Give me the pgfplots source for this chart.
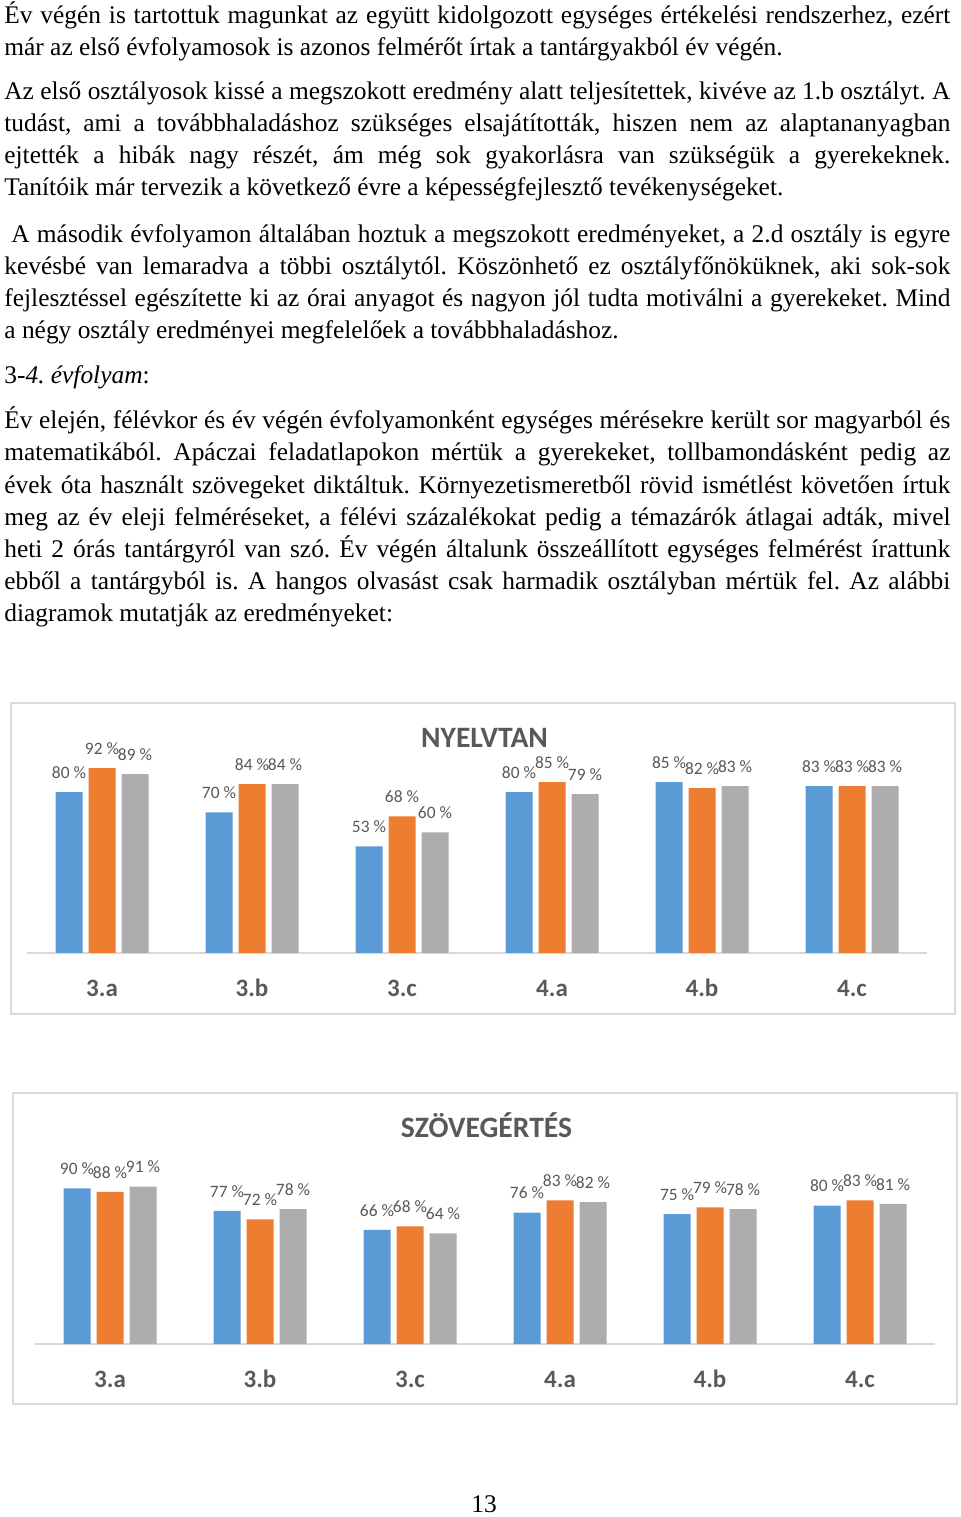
\documentclass[border=0pt]{standalone}
\usepackage{pgfplots}
\pgfplotsset{compat=1.18}
\usepackage{fontspec}
\setmainfont{Liberation Serif}
\newfontfamily\carlito{Carlito}
\definecolor{cblue}{HTML}{5B9BD5}
\definecolor{corange}{HTML}{ED7D31}
\definecolor{cgray}{HTML}{ADADAD}
\definecolor{tgray}{HTML}{595959}
\definecolor{lgray}{HTML}{D9D9D9}
\frenchspacing
\newcommand{\jl}[1]{\hbox to 473pt{#1}}
\newcommand{\bodyfont}{\fontsize{12.7}{16}\selectfont}
\pgfplotsset{
 barchart/.style={
   ybar=3pt, bar width=13.5pt, scale only axis, width=450pt, anchor=south west,
   xmin=-0.5, xmax=5.5, ymin=0, ymax=100,
   axis x line=bottom, axis y line=none,
   axis line style={lgray, line width=0.7pt, -},
   xtick={0,...,5}, xticklabels={3.a,3.b,3.c,4.a,4.b,4.c},
   major tick length=0pt, ytick=\empty,
   xticklabel style={font=\carlito\bfseries\fontsize{12.5}{14}\selectfont, text=tgray, anchor=center, yshift=-17.5pt},
   nodes near coords={\pgfmathprintnumber[assume math mode=true]{\pgfplotspointmeta}~\%},
   every node near coord/.append style={font=\carlito\fontsize{8.7}{10}\selectfont, text=tgray, anchor=base, inner sep=0pt, yshift=6.8pt},
   clip=false,
 }
}
\begin{document}
\begin{tikzpicture}
\path[use as bounding box] (0,0) rectangle (480pt,758.5pt);
\fill[white] (0,0) rectangle (480pt,758.5pt);
\bodyfont
\node[anchor=base west, inner sep=0pt] at (2pt,746.5pt) {\jl{Év végén is tartottuk magunkat az együtt kidolgozott egységes értékelési rendszerhez, ezért}};
\node[anchor=base west, inner sep=0pt] at (2pt,730.75pt) {már az első évfolyamosok is azonos felmérőt írtak a tantárgyakból év végén.};
\node[anchor=base west, inner sep=0pt] at (2pt,708.5pt) {\jl{Az első osztályosok kissé a megszokott eredmény alatt teljesítettek, kivéve az 1.b osztályt. A}};
\node[anchor=base west, inner sep=0pt] at (2pt,692.75pt) {\jl{tudást, ami a továbbhaladáshoz szükséges elsajátították, hiszen nem az alaptananyagban}};
\node[anchor=base west, inner sep=0pt] at (2pt,676.75pt) {\jl{ejtették a hibák nagy részét, ám még sok gyakorlásra van szükségük a gyerekeknek.}};
\node[anchor=base west, inner sep=0pt] at (2pt,660.75pt) {Tanítóik már tervezik a következő évre a képességfejlesztő tevékenységeket.};
\node[anchor=base west, inner sep=0pt] at (2pt,637.25pt) {\jl{\hspace{3.5pt}A második évfolyamon általában hoztuk a megszokott eredményeket, a 2.d osztály is egyre}};
\node[anchor=base west, inner sep=0pt] at (2pt,621.25pt) {\jl{kevésbé van lemaradva a többi osztálytól. Köszönhető ez osztályfőnöküknek, aki sok-sok}};
\node[anchor=base west, inner sep=0pt] at (2pt,605.25pt) {\jl{fejlesztéssel egészítette ki az órai anyagot és nagyon jól tudta motiválni a gyerekeket. Mind}};
\node[anchor=base west, inner sep=0pt] at (2pt,589.25pt) {a négy osztály eredményei megfelelőek a továbbhaladáshoz.};
\node[anchor=base west, inner sep=0pt] at (2pt,566.75pt) {3-\textit{4. évfolyam}:};
\node[anchor=base west, inner sep=0pt] at (2pt,544pt) {\jl{Év elején, félévkor és év végén évfolyamonként egységes mérésekre került sor magyarból és}};
\node[anchor=base west, inner sep=0pt] at (2pt,528pt) {\jl{matematikából. Apáczai feladatlapokon mértük a gyerekeket, tollbamondásként pedig az}};
\node[anchor=base west, inner sep=0pt] at (2pt,511.75pt) {\jl{évek óta használt szövegeket diktáltuk. Környezetismeretből rövid ismétlést követően írtuk}};
\node[anchor=base west, inner sep=0pt] at (2pt,495.75pt) {\jl{meg az év eleji felméréseket, a félévi százalékokat pedig a témazárók átlagai adták, mivel}};
\node[anchor=base west, inner sep=0pt] at (2pt,479.75pt) {\jl{heti 2 órás tantárgyról van szó. Év végén általunk összeállított egységes felmérést írattunk}};
\node[anchor=base west, inner sep=0pt] at (2pt,463.75pt) {\jl{ebből a tantárgyból is. A hangos olvasást csak harmadik osztályban mértük fel. Az alábbi}};
\node[anchor=base west, inner sep=0pt] at (2pt,447.75pt) {diagramok mutatják az eredményeket:};
\node[anchor=base, inner sep=0pt] at (242pt,2pt) {13};

% chart frames
\draw[lgray, line width=0.7pt] (5.5pt,407pt) rectangle (477.5pt,251.5pt);
\draw[lgray, line width=0.7pt] (6.5pt,212pt) rectangle (478.5pt,56.5pt);
\node[anchor=base, inner sep=0pt, text=tgray, font=\carlito\bfseries\fontsize{14.8}{17}\selectfont] at (242.25pt,384.5pt) {NYELVTAN};
\node[anchor=base, inner sep=0pt, text=tgray, font=\carlito\bfseries\fontsize{14.8}{17}\selectfont] at (243.25pt,189.5pt) {SZÖVEGÉRTÉS};

\begin{axis}[barchart, at={(13.5pt,282pt)}, height=100.5pt]
\addplot[fill=cblue, draw=none] coordinates {(0,80) (1,70) (2,53) (3,80) (4,85) (5,83)};
\addplot[fill=corange, draw=none] coordinates {(0,92) (1,84) (2,68) (3,85) (4,82) (5,83)};
\addplot[fill=cgray, draw=none] coordinates {(0,89) (1,84) (2,60) (3,79) (4,83) (5,83)};
\end{axis}

\begin{axis}[barchart, at={(17.5pt,86.5pt)}, height=86.5pt]
\addplot[fill=cblue, draw=none] coordinates {(0,90) (1,77) (2,66) (3,76) (4,75) (5,80)};
\addplot[fill=corange, draw=none] coordinates {(0,88) (1,72) (2,68) (3,83) (4,79) (5,83)};
\addplot[fill=cgray, draw=none] coordinates {(0,91) (1,78) (2,64) (3,82) (4,78) (5,81)};
\end{axis}
\end{tikzpicture}
\end{document}
